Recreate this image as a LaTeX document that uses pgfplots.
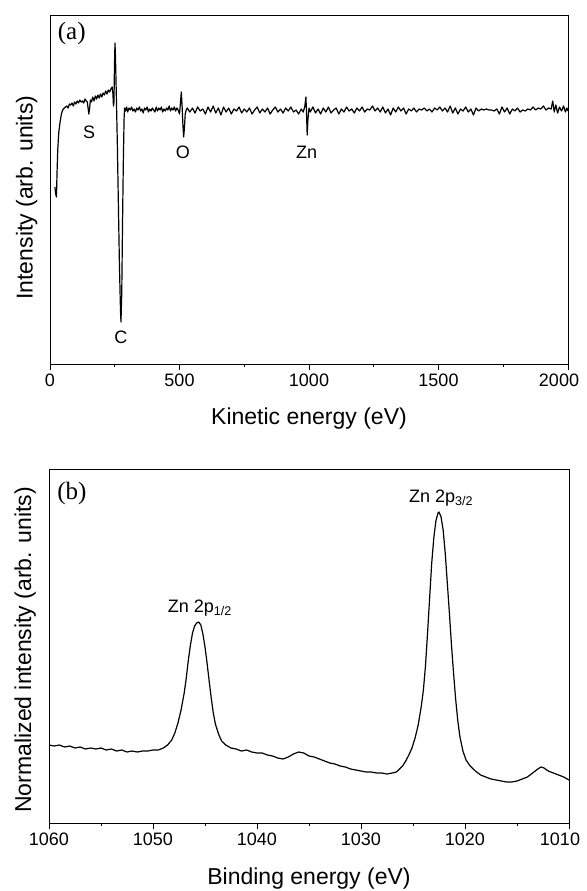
\documentclass[border=0pt]{standalone}
\usepackage{pgfplots}
\pgfplotsset{compat=1.18}
\usepackage{fontspec}
\setmainfont{Liberation Sans}
\newfontfamily\timesfont{Liberation Serif}

\pgfplotsset{
  auger/.style={
    scale only axis,
    axis line style={black, line width=0.8pt},
    tick style={black, line width=0.8pt},
    tick align=outside,
    xtick pos=bottom,
    ytick=\empty,
    major tick length=6pt,
    minor tick length=3pt,
    /pgf/number format/assume math mode=true,
    /pgf/number format/1000 sep={},
    tick label style={font=\fontsize{18}{20}\selectfont},
    extra x tick style={xticklabel style={xshift=-9pt}},
  },
  spec/.style={black, line width=1.2pt, line join=round},
}

\begin{document}
\begin{tikzpicture}
\path[use as bounding box] (0pt,0pt) rectangle (586pt,-891pt);

% (a) survey spectrum
\begin{axis}[auger,
    at={(50pt,-364pt)}, anchor=south west,
    width=518pt, height=349pt,
    xmin=0, xmax=2000, ymin=0, ymax=349,
    xtick={0,500,1000,1500},
    extra x ticks={2000},
    minor xtick={250,750,1250,1750},
    xlabel={Kinetic energy (eV)},
    ylabel={Intensity (arb. units)},
    every axis x label/.style={at={(axis description cs:0.5,-0.172)}, anchor=base,
      font=\fontsize{23}{26}\selectfont},
    every axis y label/.style={at={(axis description cs:-0.045,0.477)}, rotate=90, anchor=center,
      font=\fontsize{23}{26}\selectfont},
  ]
  \addplot[spec] coordinates {
    (19,177)(22,170)(25,167)(27,190)(30,215)(34,232)(39,242)(44,250)(49,254)(55,256)(60,257)
    (65,258)(70,256)(75,260)(80,259)(85,261)(90,258)(95,262)(100,260)(105,263)(110,261)
    (115,264)(120,262)(125,263)(130,261)(135,265)(140,263)(144,262)(147,256)(150,250)(153,256)(156,264)
    (160,262)(165,267)(170,263)(175,268)(180,265)(185,269)(190,266)(195,270)(200,267)(205,271)
    (210,269)(215,273)(220,270)(225,274)(230,272)(235,275)(240,277)(243,270)(245,258)(247,262)
    (249,300)(251,321)(253,305)(256,270)(260,220)(264,160)(268,100)(272,55)(274,42)(277,70)
    (280,140)(283,200)(286,245)(288,256)
    (292,253)(296,257)(300,252)(305,256)(310,254)(315,257)(320,253)(325,255)(330,252)(335,256)
    (340,254)(345,257)(350,253)(355,255)(360,251)(365,256)(370,254)(375,257)(380,252)(385,255)
    (390,253)(395,256)(400,254)(405,252)(410,257)(415,253)(420,256)(425,254)(430,257)(435,252)
    (440,255)(445,253)(450,256)(455,254)(460,258)(465,253)(470,256)(475,254)(480,257)(485,253)
    (490,256)(495,254)(500,250)(504,262)(507,272)(510,258)(513,240)(516,227)(519,236)(522,250)
    (526,254)(530,256)
    (540,252)(550,256)(560,251)(570,257)(580,253)(590,255)(600,250)(610,257)(620,252)(630,258)
    (640,251)(650,256)(660,249)(670,257)(680,252)(690,256)(700,250)(710,255)(720,253)(730,257)
    (740,251)(750,255)(760,252)(770,256)(780,250)(790,254)(800,257)(810,251)(820,255)(830,252)
    (840,256)(850,250)(860,254)(870,257)(880,252)(890,255)(900,251)(910,256)(920,253)(930,257)
    (940,252)(950,254)(960,250)(970,255)(978,252)(984,258)(988,267)(990,255)(993,229)(996,245)
    (1000,256)(1005,252)
    (1015,257)(1025,251)(1035,255)(1045,250)(1055,256)(1065,252)(1075,257)(1085,251)(1095,254)
    (1105,256)(1115,250)(1125,255)(1135,252)(1145,257)(1155,253)(1165,255)(1175,251)(1185,256)
    (1195,253)(1205,257)(1215,252)(1225,255)(1235,254)(1245,258)(1255,253)(1265,256)(1275,252)
    (1285,257)(1295,251)(1305,255)(1315,249)(1325,256)(1335,252)(1345,257)(1355,253)(1365,256)
    (1375,250)(1385,255)(1395,253)(1405,256)(1415,252)(1425,255)(1435,254)(1445,256)(1455,253)
    (1465,255)(1475,252)(1485,256)(1495,254)(1505,257)(1515,253)(1525,256)(1535,252)(1545,258)
    (1555,251)(1565,256)(1575,250)(1585,255)(1595,253)(1605,257)(1615,252)(1625,255)(1635,249)
    (1645,256)(1655,253)(1665,255)(1675,254)(1685,255)(1695,254)(1705,254)(1715,253)(1725,255)
    (1735,250)(1745,257)(1755,252)(1765,256)(1775,250)(1785,255)(1795,253)(1805,256)(1815,252)
    (1825,254)(1835,253)(1845,255)(1855,254)(1865,257)(1875,254)(1885,256)(1895,255)(1905,258)
    (1915,254)(1925,256)(1935,255)(1941,263)(1947,252)(1953,259)(1960,251)(1967,257)(1975,253)
    (1983,258)(1990,252)(1996,256)(2000,253)};
  \node[font=\timesfont\fontsize{25}{27}\selectfont] at (rel axis cs:0.042,0.948) {(a)};
  \node[font=\fontsize{18}{20}\selectfont] at (axis cs:151,232) {S};
  \node[font=\fontsize{18}{20}\selectfont] at (axis cs:274,27) {C};
  \node[font=\fontsize{18}{20}\selectfont] at (axis cs:513,212) {O};
  \node[font=\fontsize{18}{20}\selectfont] at (axis cs:991,212) {Zn};
\end{axis}

% (b) Zn 2p high-resolution spectrum
\begin{axis}[auger,
    at={(49pt,-823pt)}, anchor=south west,
    width=520pt, height=354pt,
    x dir=reverse,
    xmin=1010, xmax=1060, ymin=0, ymax=354,
    xtick={1020,1030,1040,1050,1060},
    extra x ticks={1010},
    minor xtick={1015,1025,1035,1045,1055},
    xlabel={Binding energy (eV)},
    ylabel={Normalized intensity (arb. units)},
    every axis x label/.style={at={(axis description cs:0.5,-0.175)}, anchor=base,
      font=\fontsize{23}{26}\selectfont},
    every axis y label/.style={at={(axis description cs:-0.046,0.489)}, rotate=90, anchor=center,
      font=\fontsize{23}{26}\selectfont},
  ]
  \addplot[spec] coordinates {
    (1060.0,78)(1059.5,77)(1059.0,78)(1058.5,76)(1058.0,77)(1057.5,75)(1057.0,76)(1056.5,74)
    (1056.0,75)(1055.5,74)(1055.0,75)(1054.5,73)(1054.0,74)(1053.5,72)(1053.0,73)(1052.5,71)
    (1052.0,72)(1051.5,71)(1051.0,72)(1050.5,72)(1050.0,73)(1049.5,73)(1049.0,75)(1048.6,78)
    (1048.2,83)(1047.9,90)(1047.6,100)(1047.3,113)(1047.0,130)(1046.8,145)(1046.6,163)
    (1046.4,178)(1046.2,190)(1046.0,197)(1045.8,200)(1045.6,201)(1045.4,198)(1045.2,189)
    (1045.0,176)(1044.8,160)(1044.6,142)(1044.4,125)(1044.2,110)(1044.0,99)(1043.7,89)
    (1043.4,82)(1043.0,78)(1042.5,75)(1042.0,74)(1041.5,72)(1041.0,73)(1040.5,71)(1040.0,70)
    (1039.5,70)(1039.0,68)(1038.5,67)(1038.0,65)(1037.5,64)(1037.0,66)(1036.5,69)(1036.0,71)
    (1035.5,70)(1035.0,67)(1034.5,66)(1034.0,64)(1033.5,62)(1033.0,60)(1032.5,59)(1032.0,57)
    (1031.5,56)(1031.0,54)(1030.5,53)(1030.0,52)(1029.5,51)(1029.0,51)(1028.5,50)(1028.0,50)
    (1027.5,49)(1027.0,50)(1026.6,51)(1026.3,54)(1026.0,57)(1025.7,62)(1025.4,68)(1025.1,75)
    (1024.8,85)(1024.5,98)(1024.2,117)(1024.0,133)(1023.8,157)(1023.6,190)(1023.4,225)
    (1023.2,260)(1023.0,285)(1022.8,302)(1022.6,310)(1022.5,311)(1022.3,306)(1022.1,293)
    (1021.9,270)(1021.7,240)(1021.5,210)(1021.3,178)(1021.1,150)(1020.9,124)(1020.7,103)
    (1020.5,87)(1020.2,72)(1019.9,63)(1019.5,57)(1019.0,52)(1018.5,48)(1018.0,46)(1017.5,44)
    (1017.0,43)(1016.5,42)(1016.0,41)(1015.5,41)(1015.0,42)(1014.5,44)(1014.0,46)(1013.5,50)
    (1013.0,54)(1012.7,56)(1012.4,55)(1012.0,52)(1011.5,50)(1011.0,48)(1010.5,46)(1010.0,43)};
  \node[font=\timesfont\fontsize{25}{27}\selectfont] at (rel axis cs:0.044,0.932) {(b)};
  \node[font=\fontsize{18}{20}\selectfont] at (axis cs:1045.5,215) {Zn 2p\textsubscript{1/2}};
  \node[font=\fontsize{18}{20}\selectfont] at (axis cs:1022.3,325) {Zn 2p\textsubscript{3/2}};
\end{axis}
\end{tikzpicture}
\end{document}
